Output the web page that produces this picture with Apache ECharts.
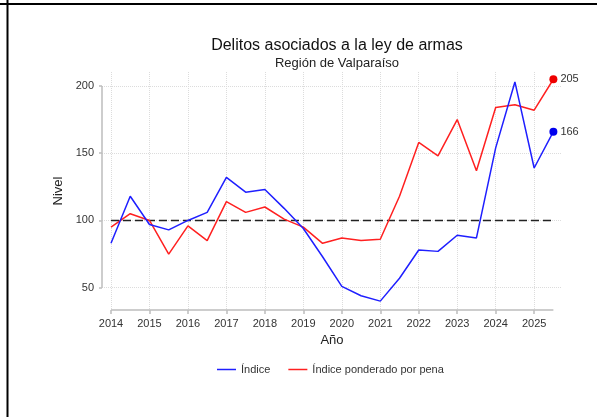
<!DOCTYPE html>
<html>
<head>
<meta charset="utf-8">
<title>Delitos asociados a la ley de armas</title>
<script src="https://cdn.jsdelivr.net/npm/echarts@6.0.0/dist/echarts.min.js"></script>
<style>
  html, body { margin: 0; padding: 0; background: #fff; }
  #chart { width: 597px; height: 417px; }
</style>
</head>
<body>
<div id="chart"></div>
<script>
// semestres (año + 0.5 = segundo semestre)
var years = [2014, 2014.5, 2015, 2015.5, 2016, 2016.5, 2017, 2017.5, 2018, 2018.5, 2019, 2019.5,
             2020, 2020.5, 2021, 2021.5, 2022, 2022.5, 2023, 2023.5, 2024, 2024.5, 2025, 2025.5];
var indice = [83, 118, 97, 93, 100, 106, 132, 121, 123, 109, 94, 73,
              51, 44, 40, 57, 78, 77, 89, 87, 154, 203, 139, 166];
var ponderado = [95, 105, 100, 75, 96, 85, 114, 106, 110, 101, 95, 83,
                 87, 85, 86, 118, 158, 148, 175, 137, 184, 186, 182, 205];
var xTicks = [2014, 2015, 2016, 2017, 2018, 2019, 2020, 2021, 2022, 2023, 2024, 2025];
var yTicks = [50, 100, 150, 200];
var baseLevel = 100;

var xMin = 2013.766, xMax = 2025.724;
var yMin = 33.4, yMax = 210.4;
var font = 'Liberation Sans, Arial, sans-serif';
var axisGray = '#bdbdbd';
var lastX = years[years.length - 1];

function pairs(vals) {
  return years.map(function (y, i) { return [y, vals[i]]; });
}

function endMark(vals, color) {
  var v = vals[vals.length - 1];
  return {
    symbol: 'circle',
    symbolSize: 8,
    silent: true,
    itemStyle: { color: color },
    label: { show: true, position: 'right', distance: 3, formatter: '{c}', color: '#333', fontSize: 11, fontFamily: font },
    data: [{ coord: [lastX, v], value: v }]
  };
}

var chart = echarts.init(document.getElementById('chart'));
chart.setOption({
  animation: false,
  backgroundColor: '#fff',
  textStyle: { fontFamily: font },
  title: {
    text: 'Delitos asociados a la ley de armas',
    subtext: 'Región de Valparaíso',
    left: 332,
    textAlign: 'center',
    top: 33,
    itemGap: 3,
    textStyle: { fontSize: 16, fontWeight: 'normal', color: '#111', fontFamily: font },
    subtextStyle: { fontSize: 13, color: '#222', fontFamily: font }
  },
  legend: {
    data: ['Índice', 'Índice ponderado por pena'],
    left: 217,
    top: 364,
    padding: 0,
    icon: 'rect',
    itemWidth: 19,
    itemHeight: 1.5,
    itemGap: 18,
    textStyle: { fontSize: 11, color: '#333', fontFamily: font }
  },
  grid: { left: 102, right: 35, top: 72, bottom: 107, outerBoundsMode: 'none' },
  xAxis: {
    type: 'value',
    min: xMin,
    max: xMax,
    name: 'Año',
    nameLocation: 'middle',
    nameGap: 24,
    nameTextStyle: { fontSize: 13, color: '#222', fontFamily: font },
    axisLine: { show: false },
    axisTick: { show: true, customValues: xTicks, length: 4, lineStyle: { color: axisGray, width: 1.5 } },
    axisLabel: {
      customValues: xTicks, margin: 8, fontSize: 11, color: '#333', fontFamily: font,
      formatter: function (v) { return String(v); }
    },
    splitLine: { show: true, lineStyle: { type: 'dotted', color: '#dcdcdc', width: 1 } }
  },
  yAxis: {
    type: 'value',
    min: yMin,
    max: yMax,
    name: 'Nivel',
    nameLocation: 'middle',
    nameGap: 36,
    nameTextStyle: { fontSize: 13, color: '#222', fontFamily: font },
    axisLine: { show: false },
    axisTick: { show: true, customValues: yTicks, length: 3, lineStyle: { color: axisGray, width: 1.5 } },
    axisLabel: { customValues: yTicks, margin: 8, fontSize: 11, color: '#333', fontFamily: font },
    splitLine: { show: true, lineStyle: { type: 'dotted', color: '#dcdcdc', width: 1 } }
  },
  graphic: [
    { type: 'rect', shape: { x: 0, y: 3, width: 597, height: 2 }, style: { fill: '#000' }, silent: true },
    { type: 'rect', shape: { x: 6.5, y: 0, width: 2, height: 417 }, style: { fill: '#000' }, silent: true }
  ],
  series: [
    {
      name: 'base',
      type: 'line',
      z: 1,
      symbol: 'none',
      silent: true,
      data: [[years[0], baseLevel], [lastX, baseLevel]],
      lineStyle: { color: '#222', width: 1.5, type: [8, 4] },
      markLine: {
        silent: true,
        symbol: 'none',
        label: { show: false },
        lineStyle: { color: axisGray, width: 1.5, type: 'solid' },
        data: [
          [{ coord: [xMin, yTicks[0]] }, { coord: [xMin, yTicks[yTicks.length - 1]] }],
          [{ coord: [xTicks[0], yMin] }, { coord: [lastX, yMin] }]
        ]
      }
    },
    {
      name: 'Índice',
      type: 'line',
      z: 3,
      symbol: 'none',
      color: '#1f1fff',
      lineStyle: { color: '#1f1fff', width: 1.5 },
      data: pairs(indice),
      markPoint: endMark(indice, '#0000ee')
    },
    {
      name: 'Índice ponderado por pena',
      type: 'line',
      z: 2,
      symbol: 'none',
      color: '#ff2020',
      lineStyle: { color: '#ff2020', width: 1.5 },
      data: pairs(ponderado),
      markPoint: endMark(ponderado, '#ee0000')
    }
  ]
});
</script>
</body>
</html>
